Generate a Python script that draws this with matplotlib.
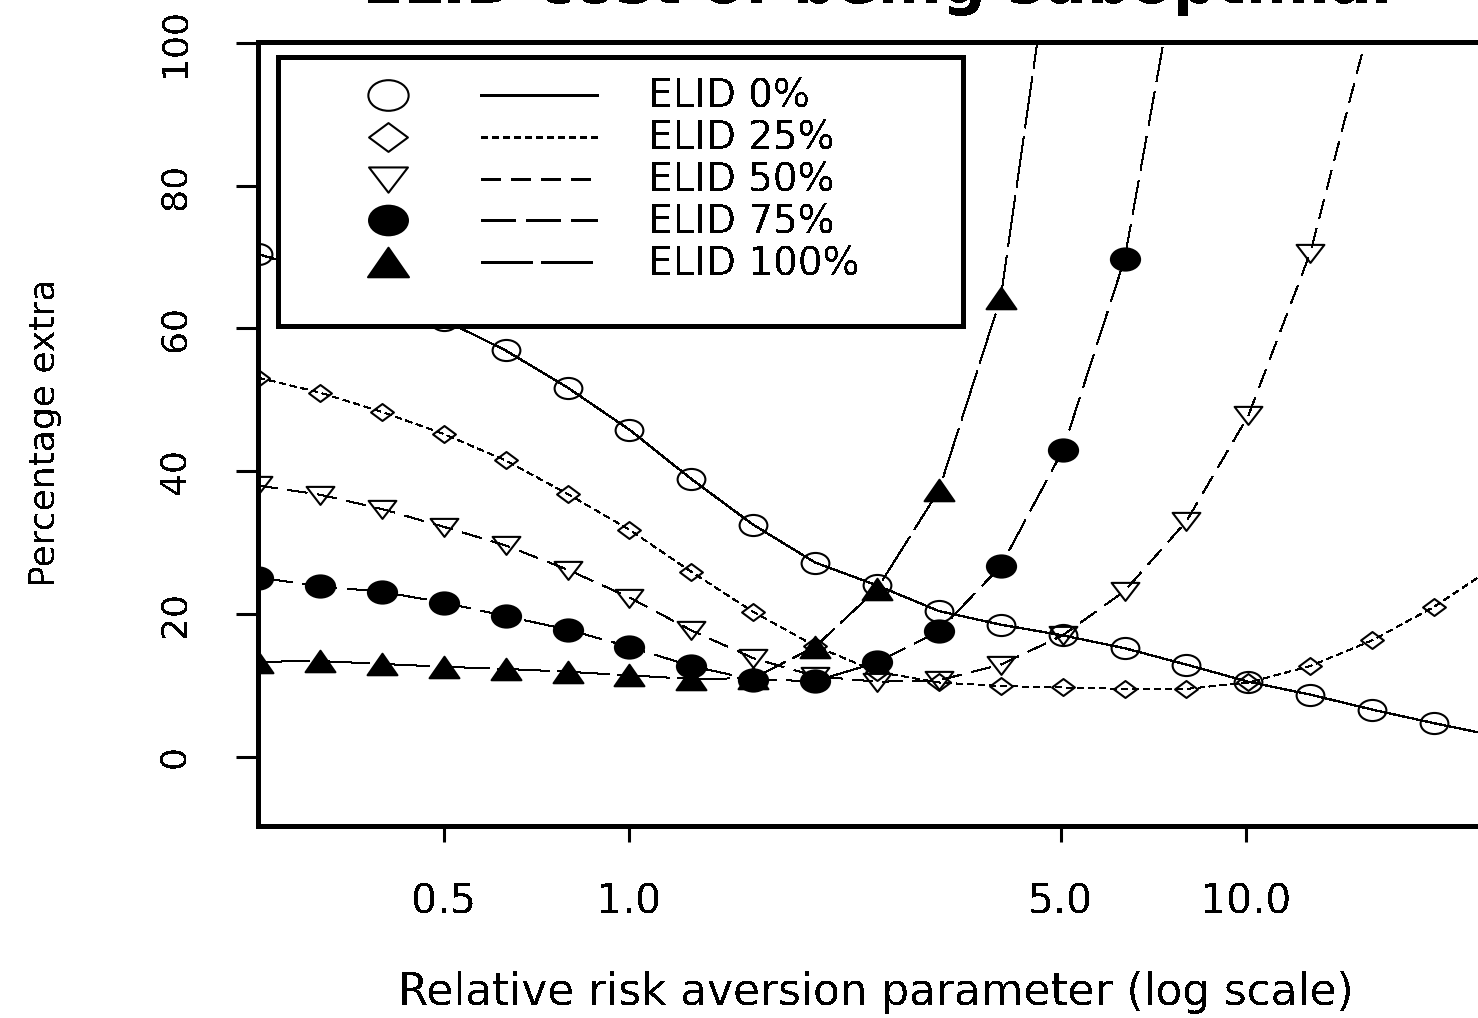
import numpy as np
import matplotlib
matplotlib.use("Agg")
import matplotlib.pyplot as plt
from matplotlib.path import Path
from matplotlib.transforms import Affine2D
from matplotlib.ticker import NullLocator

# Relative risk aversion parameter values (log-spaced grid)
gamma = [0.25, 0.315, 0.397, 0.5, 0.63, 0.794, 1.0, 1.26, 1.587, 2.0, 2.52,
         3.175, 4.0, 5.04, 6.35, 8.0, 10.08, 12.7, 16.0, 20.16, 25.4]

# Percentage extra cost for each ELID share
elid_0 = [70.4, 67.9, 64.8, 61.2, 56.9, 51.7, 45.8, 38.9, 32.5, 27.2, 24.0,
          20.4, 18.5, 17.0, 15.2, 12.9, 10.5, 8.7, 6.6, 4.7, 2.9]
elid_25 = [53.1, 51.0, 48.3, 45.2, 41.5, 36.8, 31.8, 25.9, 20.3, 15.5, 11.9,
           10.4, 9.9, 9.7, 9.5, 9.5, 10.4, 12.7, 16.3, 21.0, 26.8]
elid_50 = [38.0, 36.7, 34.7, 32.2, 29.6, 26.2, 22.3, 17.7, 13.8, 11.3, 10.5,
           10.7, 12.9, 17.0, 23.2, 33.0, 47.8, 70.6, 104.0]
elid_75 = [25.1, 23.9, 23.1, 21.6, 19.7, 17.8, 15.4, 12.7, 10.8, 10.6, 13.2,
           17.6, 26.7, 42.9, 69.7, 118.0]
elid_100 = [13.3, 13.4, 13.0, 12.6, 12.3, 11.9, 11.4, 10.9, 11.0, 15.4, 23.5,
            37.3, 64.3, 125.0]

series_labels = ["ELID 0%", "ELID 25%", "ELID 50%", "ELID 75%", "ELID 100%"]
x_ticks = [0.5, 1.0, 5.0, 10.0]
x_tick_labels = ["0.5", "1.0", "5.0", "10.0"]
y_ticks = [0, 20, 40, 60, 80, 100]
y_tick_labels = ["0", "20", "40", "60", "80", "100"]

plt.rcParams["font.family"] = ["DejaVu Sans"]
plt.rcParams["lines.scale_dashes"] = False
plt.rcParams["lines.antialiased"] = False
plt.rcParams["patch.antialiased"] = False
plt.rcParams["text.antialiased"] = False

W, H = 1478, 1018
fig = plt.figure(figsize=(W / 100, H / 100), dpi=100)
fig.patch.set_facecolor("white")


def px_box(x0, y0, x1, y1):
    """Figure-fraction rectangle from pixel edges (y measured from top)."""
    return [x0 / W, 1 - y1 / H, (x1 - x0) / W, (y1 - y0) / H]


def closed(verts):
    verts = list(verts) + [verts[0]]
    return Path(verts, closed=True)


# Marker shapes (slightly wide glyphs)
ellipse = Path.unit_circle().transformed(Affine2D().scale(1.0, 0.76))
diamond = closed([(0, 0.74), (1, 0), (0, -0.74), (-1, 0)])
tri_down = closed([(-1, 0.62), (1, 0.62), (0, -0.68)])
tri_up = closed([(0, 0.72), (1, -0.72), (-1, -0.72)])

line_styles = ["-", (0, (5.0, 3.0)), (0, (13.7, 7.9)), (0, (24.5, 7.9)), (0, (37.4, 5.8))]
markers = [ellipse, diamond, tri_down, ellipse, tri_up]
filled = [False, False, False, True, True]
plot_ms = [20, 16.5, 20, 21, 21.5]
legend_ms = [29, 28, 28, 28, 29.5]
data = [elid_0, elid_25, elid_50, elid_75, elid_100]

ax = fig.add_axes(px_box(258, 42, 1496, 826))
ax.set_xscale("log")
ax.set_xlim(0.25, 25.4)
ax.set_ylim(-9.7, 100.1)

for y, ls, mk, fl, ms in zip(data, line_styles, markers, filled, plot_ms):
    ax.plot(gamma[:len(y)], y, color="black", lw=0.9, ls=ls,
            marker=mk, ms=ms, mew=1.5, mec="black",
            mfc="black" if fl else "none")

for side in ["left", "bottom", "top"]:
    ax.spines[side].set_linewidth(2.2)
ax.spines["right"].set_visible(False)

ax.xaxis.set_minor_locator(NullLocator())
ax.set_xticks(x_ticks, x_tick_labels)
ax.set_yticks(y_ticks, y_tick_labels)
ax.tick_params(axis="x", direction="out", length=11.5, width=2.2, pad=29,
               labelsize=29.5)
ax.tick_params(axis="y", direction="out", length=15.8, width=2.2, pad=32,
               labelsize=26)
for lab in ax.get_yticklabels():
    lab.set_rotation(90)
    lab.set_va("center")
    lab.set_ha("right")

# Legend panel
lax = fig.add_axes(px_box(278, 57, 963, 326))
lax.set_xlim(278, 963)
lax.set_ylim(326, 57)
lax.set_xticks([])
lax.set_yticks([])
lax.set_facecolor("white")
for sp in lax.spines.values():
    sp.set_linewidth(2.2)

rows = [95, 137, 179, 220, 262]
for row, lab, ls, mk, fl, ms in zip(rows, series_labels, line_styles, markers,
                                     filled, legend_ms):
    lax.plot([388], [row], ls="none", marker=mk, ms=ms, mew=1.5, mec="black",
             mfc="black" if fl else "none")
    lax.plot([481, 597], [row, row], color="black", lw=2.0, ls=ls)
    lax.text(648, row + 13, lab, fontsize=28, ha="left", va="baseline")

fig.text(877 / W, 1 - 3.5 / H, "ELID cost of being suboptimal", fontsize=44,
         fontweight="bold", ha="center", va="baseline")
fig.text(876 / W, 1 - 1005 / H, "Relative risk aversion parameter (log scale)",
         fontsize=31.5, ha="center", va="baseline")
fig.text(55 / W, 1 - 433 / H, "Percentage extra", fontsize=26, rotation=90,
         rotation_mode="anchor", ha="center", va="baseline")

fig.savefig("out.png", dpi=100, facecolor="white")
